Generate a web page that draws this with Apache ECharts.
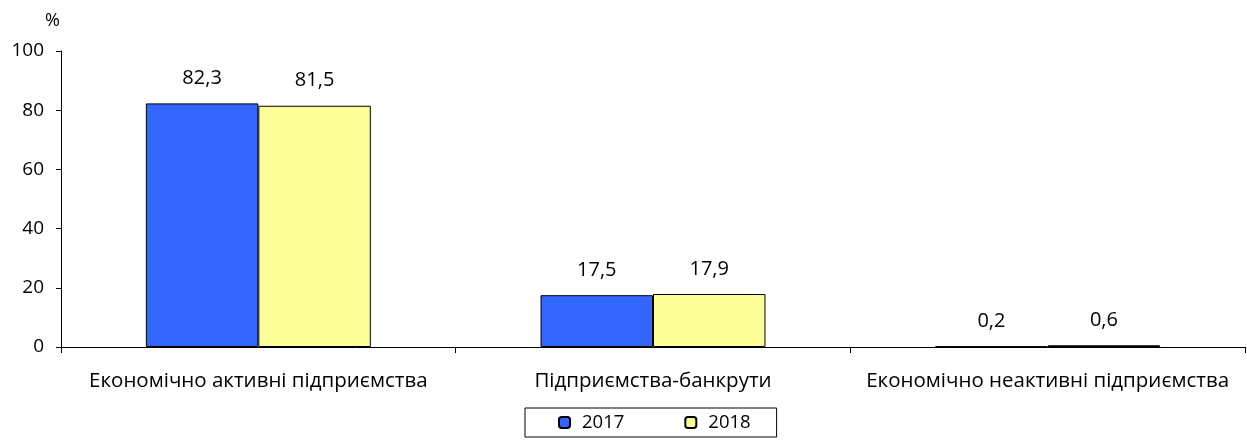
<!DOCTYPE html>
<html><head><meta charset="utf-8">
<script src="https://cdn.jsdelivr.net/npm/echarts@6/dist/echarts.min.js"></script>
<style>html,body{margin:0;padding:0;background:#fff}#c{width:1247px;height:443px}</style>
</head><body><div id="c"></div>
<script>
const categories = ['Економічно активні підприємства', 'Підприємства-банкрути', 'Економічно неактивні підприємства'];
const values2017 = [82.3, 17.5, 0.2];
const values2018 = [81.5, 17.9, 0.6];
const seriesNames = ['2017', '2018'];
const yTicks = [0, 20, 40, 60, 80, 100];

const FONT = '"Open Sans", sans-serif';
const chart = echarts.init(document.getElementById('c'));
const lbl = {
  show: true, position: 'top', distance: 15, color: '#000', fontSize: 20, fontFamily: FONT,
  formatter: p => String(p.value).replace('.', ',')
};
chart.setOption({
  animation: false,
  title: { text: '%', left: 40, top: 7, textStyle: { fontSize: 18, fontWeight: 'normal', color: '#000', fontFamily: FONT } },
  grid: { left: 61, right: 2, top: 51, bottom: 96, containLabel: false },
  legend: {
    data: seriesNames, bottom: 6, left: 525,
    itemWidth: 11, itemHeight: 11, itemGap: 60,
    borderColor: '#000', borderWidth: 1, padding: [5, 26, 5, 33],
    textStyle: { fontSize: 18.5, color: '#000', fontFamily: FONT, padding: [0, 0, 0, 7] }
  },
  xAxis: {
    type: 'category', data: categories,
    axisLine: { lineStyle: { color: '#000', width: 1 } },
    axisTick: { show: true, alignWithLabel: false, length: 6, lineStyle: { color: '#000' } },
    axisLabel: { color: '#000', fontSize: 20.5, fontFamily: FONT, margin: 24, interval: 0 }
  },
  yAxis: {
    type: 'value', min: 0, max: 100, interval: 20,
    splitLine: { show: false },
    axisLine: { show: true, lineStyle: { color: '#000', width: 1 } },
    axisTick: { show: true, length: 5, lineStyle: { color: '#000' } },
    axisLabel: { color: '#000', fontSize: 19, fontFamily: FONT, margin: 17,
      formatter: v => yTicks.includes(v) ? String(v) : '' }
  },
  series: [
    { name: seriesNames[0], type: 'bar', data: values2017, barGap: '0%', barCategoryGap: '43%',
      itemStyle: { color: '#3366FF', borderColor: '#000', borderWidth: 1 }, label: lbl },
    { name: seriesNames[1], type: 'bar', data: values2018, barGap: '0%', barCategoryGap: '43%',
      itemStyle: { color: '#FFFF99', borderColor: '#000', borderWidth: 1 }, label: lbl }
  ]
});
</script></body></html>
